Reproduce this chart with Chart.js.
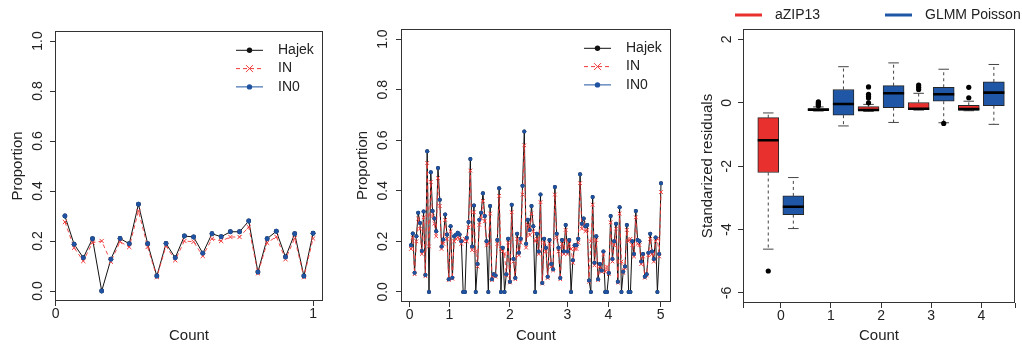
<!DOCTYPE html>
<html>
<head>
<meta charset="utf-8">
<script src="https://cdn.jsdelivr.net/npm/chart.js@4.4.1/dist/chart.umd.min.js"></script>
<style>
  html, body { margin: 0; padding: 0; background: #fff; }
  #wrap { position: relative; width: 1022px; height: 345px; }
  .panel { position: absolute; top: 0; height: 345px; }
</style>
</head>
<body>
<div id="wrap">
  <div class="panel" style="left:0;width:340px"><canvas id="c1" width="340" height="345"></canvas></div>
  <div class="panel" style="left:340px;width:340px"><canvas id="c2" width="340" height="345"></canvas></div>
  <div class="panel" style="left:680px;width:342px"><canvas id="c3" width="342" height="345"></canvas></div>
</div>
<script>
// ---- panel 1: proportions, count 0..1 ----
const p1Hajek = [0.30, 0.187, 0.133, 0.209, 0.0, 0.127, 0.21, 0.189, 0.347, 0.189, 0.06, 0.19, 0.133, 0.22,
  0.216, 0.151, 0.229, 0.217, 0.237, 0.237, 0.28, 0.076, 0.209, 0.239, 0.136, 0.229, 0.06, 0.231];
const p1IN = [0.276, 0.173, 0.12, 0.193, 0.2, 0.117, 0.197, 0.176, 0.32, 0.176, 0.056, 0.18, 0.123, 0.2,
  0.197, 0.14, 0.209, 0.2, 0.216, 0.216, 0.256, 0.071, 0.193, 0.217, 0.127, 0.21, 0.056, 0.21];
const p1IN0 = [0.30, 0.187, 0.133, 0.209, 0.0, 0.127, 0.21, 0.189, 0.347, 0.189, 0.06, 0.19, 0.133, 0.22,
  0.216, 0.151, 0.229, 0.217, 0.237, 0.237, 0.28, 0.076, 0.209, 0.239, 0.136, 0.229, 0.06, 0.231];
const p1TickAt = [0, 1];
const p1TickLabels = ["0", "1"];

// ---- panel 2: proportions, count 0..5 (x = observation index) ----
const p2Hajek = [
  0.185, 0.231, 0.076, 0.22, 0.313, 0.273, 0.162, 0.318, 0.067, 0.556,
  0, 0.473, 0.32, 0.29, 0.24, 0.49, 0.365, 0.18, 0.207, 0.306,
  0.227, 0.05, 0.26, 0.056, 0.22, 0.226, 0.234, 0.227, 0.2, 0,
  0, 0.214, 0.276, 0.526, 0.18, 0.342, 0, 0.11, 0.285, 0.313,
  0.39, 0.3, 0.2, 0, 0.34, 0.05, 0.07, 0.065, 0.205, 0.41,
  0, 0.175, 0, 0.07, 0.21, 0.04, 0.345, 0.13, 0.055, 0.23,
  0.155, 0.21, 0.42, 0.635, 0.19, 0.285, 0.245, 0.34, 0.26, 0,
  0.23, 0.16, 0.385, 0.035, 0.21, 0.175, 0.06, 0.205, 0.11, 0.09,
  0.415, 0.23, 0.175, 0.055, 0.205, 0.16, 0.265, 0.16, 0.205, 0,
  0.125, 0.185, 0.185, 0.21, 0.465, 0.27, 0.29, 0.26, 0.265, 0.045,
  0, 0.375, 0.115, 0.22, 0.05, 0.11, 0.085, 0.16, 0, 0,
  0.075, 0.3, 0.13, 0.2, 0.27, 0.04, 0.335, 0, 0.08, 0.1,
  0.265, 0, 0, 0.2, 0.15, 0.32, 0.205, 0.2, 0.12, 0.15,
  0.06, 0.07, 0.155, 0.23, 0.16, 0.13, 0.215, 0, 0.15, 0.43];
const p2IN = [
  0.17, 0.215, 0.07, 0.2, 0.29, 0.25, 0.15, 0.295, 0.062, 0.51,
  0.18, 0.435, 0.3, 0.27, 0.22, 0.45, 0.34, 0.17, 0.19, 0.285,
  0.21, 0.047, 0.24, 0.052, 0.2, 0.21, 0.215, 0.21, 0.19, 0.2,
  0.21, 0.2, 0.255, 0.48, 0.165, 0.315, 0.16, 0.1, 0.265, 0.29,
  0.36, 0.28, 0.185, 0.19, 0.31, 0.047, 0.065, 0.06, 0.19, 0.38,
  0.17, 0.16, 0.15, 0.065, 0.195, 0.037, 0.315, 0.12, 0.05, 0.21,
  0.145, 0.195, 0.385, 0.58, 0.175, 0.265, 0.225, 0.31, 0.24, 0.2,
  0.21, 0.15, 0.355, 0.033, 0.195, 0.16, 0.055, 0.19, 0.1, 0.085,
  0.385, 0.215, 0.16, 0.05, 0.19, 0.15, 0.245, 0.15, 0.19, 0.17,
  0.115, 0.17, 0.17, 0.195, 0.43, 0.25, 0.27, 0.24, 0.245, 0.04,
  0.2, 0.345, 0.105, 0.205, 0.047, 0.1, 0.08, 0.15, 0.08, 0.1,
  0.07, 0.275, 0.12, 0.185, 0.25, 0.037, 0.31, 0.12, 0.075, 0.095,
  0.245, 0.2, 0.21, 0.185, 0.14, 0.295, 0.19, 0.185, 0.11, 0.14,
  0.056, 0.065, 0.145, 0.21, 0.15, 0.12, 0.2, 0.21, 0.14, 0.395];
// the blue IN0 points sit on the Hajek points everywhere in the picture
const p2IN0 = p2Hajek;
const p2TickAt = [-0.8, 21.4, 55, 87, 109.7, 138.8];
const p2TickLabels = ["0", "1", "2", "3", "4", "5"];

const propTicks = [0, 0.2, 0.4, 0.6, 0.8, 1.0];

// ---- panel 3: boxplots of standardized residuals ----
const p3Counts = [0, 1, 2, 3, 4];
const zipLo  = [-4.62, -0.26, -0.27, -0.23, -0.25];
const zipQ1  = [-2.2, -0.24, -0.25, -0.215, -0.235];
const zipMed = [-1.18, -0.215, -0.225, -0.19, -0.2];
const zipQ3  = [-0.47, -0.19, -0.12, 0.01, -0.08];
const zipHi  = [-0.32, -0.13, -0.05, 0.3, 0.05];
const zipOut = [[-5.31], [-0.09, -0.06, -0.03, 0.0, 0.03], [0.0, 0.15, 0.2, 0.27, 0.5], [0.42, 0.49, 0.56], [0.16, 0.49]];
const glmLo  = [-3.97, -0.73, -0.62, -0.63, -0.68];
const glmQ1  = [-3.53, -0.39, -0.15, 0.05, -0.09];
const glmMed = [-3.28, -0.04, 0.3, 0.27, 0.32];
const glmQ3  = [-2.94, 0.42, 0.54, 0.49, 0.66];
const glmHi  = [-2.36, 1.14, 1.26, 1.06, 1.21];
const glmOut = [[], [], [], [-0.65], []];
const residTicks = [-6, -4, -2, 0, 2];

const FONT = '"Liberation Sans", Arial, Helvetica, sans-serif';
const INK = "#222";
const RED = "#f03a3a";
const BLUE = "#1f53a2";
const BOX_RED = "#e8312e";
const BOX_BLUE = "#1f56a5";

Chart.defaults.font.family = FONT;
Chart.defaults.color = INK;
Chart.defaults.animation = false;
Chart.defaults.events = [];
Chart.defaults.plugins.legend.display = false;
Chart.defaults.plugins.tooltip.enabled = false;

function rRange(lo, hi) {
  const pad = (hi - lo) * 0.04;
  return { min: lo - pad, max: hi + pad };
}

// box round the plot region plus R-style vertical y labels
function rFrame(yTicks, yLabels, gap) {
  return {
    id: "rFrame",
    afterDraw(chart) {
      const { ctx, chartArea: a } = chart;
      const y = chart.scales.y;
      ctx.save();
      ctx.strokeStyle = "#333";
      ctx.lineWidth = 1;
      const l = Math.round(a.left) + 0.5, t = Math.round(a.top) + 0.5;
      const r = Math.round(a.right) - 0.5, b = Math.round(a.bottom) - 0.5;
      ctx.strokeRect(l, t, r - l, b - t);
      ctx.font = `14px ${FONT}`;
      ctx.fillStyle = INK;
      ctx.textAlign = "center";
      ctx.textBaseline = "middle";
      yTicks.forEach((v, i) => {
        ctx.save();
        ctx.translate(a.left - gap, y.getPixelForValue(v));
        ctx.rotate(-Math.PI / 2);
        ctx.fillText(yLabels[i], 0, 0);
        ctx.restore();
      });
      ctx.restore();
    },
  };
}

function estimatorLegend() {
  const items = [
    { label: "Hajek", color: "#111", dash: [], mark: "dot" },
    { label: "IN", color: RED, dash: [4, 3], mark: "x" },
    { label: "IN0", color: BLUE, dash: [], mark: "dot" },
  ];
  return {
    id: "estimatorLegend",
    afterDraw(chart) {
      const { ctx, chartArea: a } = chart;
      ctx.save();
      ctx.font = `14px ${FONT}`;
      ctx.textBaseline = "middle";
      ctx.textAlign = "left";
      items.forEach((it, i) => {
        const y = a.top + 19.3 + i * 18.3;
        const x0 = a.right - 87, x1 = a.right - 60, xm = (x0 + x1) / 2;
        ctx.strokeStyle = it.color;
        ctx.lineWidth = 1;
        ctx.setLineDash(it.dash);
        ctx.beginPath();
        ctx.moveTo(x0, y);
        ctx.lineTo(x1, y);
        ctx.stroke();
        ctx.setLineDash([]);
        if (it.mark === "x") {
          ctx.beginPath();
          ctx.moveTo(xm - 3.5, y - 3.5); ctx.lineTo(xm + 3.5, y + 3.5);
          ctx.moveTo(xm - 3.5, y + 3.5); ctx.lineTo(xm + 3.5, y - 3.5);
          ctx.stroke();
        } else {
          ctx.fillStyle = it.color;
          ctx.beginPath();
          ctx.arc(xm, y, 2.7, 0, 2 * Math.PI);
          ctx.fill();
        }
        ctx.fillStyle = INK;
        ctx.fillText(it.label, a.right - 45, y);
      });
      ctx.restore();
    },
  };
}

function modelLegend() {
  const items = [
    { label: "aZIP13", color: BOX_RED, x: 55 },
    { label: "GLMM Poisson", color: BOX_BLUE, x: 205 },
  ];
  return {
    id: "modelLegend",
    afterDraw(chart) {
      const { ctx } = chart;
      ctx.save();
      ctx.font = `14px ${FONT}`;
      ctx.textBaseline = "middle";
      ctx.textAlign = "left";
      for (const it of items) {
        ctx.strokeStyle = it.color;
        ctx.lineWidth = 3;
        ctx.beginPath();
        ctx.moveTo(it.x, 15);
        ctx.lineTo(it.x + 27, 15);
        ctx.stroke();
        ctx.fillStyle = INK;
        ctx.fillText(it.label, it.x + 40, 15);
      }
      ctx.restore();
    },
  };
}

function rScales(o) {
  const grid = { display: true, drawOnChartArea: false, drawTicks: true, tickLength: 5, color: "#333", lineWidth: 1, offset: false };
  return {
    x: {
      type: "linear",
      min: o.xMin,
      max: o.xMax,
      offset: false,
      afterBuildTicks: (s) => { s.ticks = o.xTicks.map((v) => ({ value: v })); },
      afterFit: (s) => { s.height = o.xHeight; },
      ticks: {
        autoSkip: false, maxRotation: 0, minRotation: 0, padding: 1, color: INK,
        font: { size: 14, lineHeight: 1 },
        callback: (v, i) => o.xLabels[i],
      },
      grid,
      border: { display: false },
      title: { display: true, text: "Count", color: INK, font: { size: 15, lineHeight: 1 }, padding: { top: 0, bottom: 1.5 } },
    },
    y: {
      type: "linear",
      min: o.yMin,
      max: o.yMax,
      afterBuildTicks: (s) => { s.ticks = o.yTicks.map((v) => ({ value: v })); },
      afterFit: (s) => { s.width = o.yWidth; },
      ticks: { display: false },
      grid,
      border: { display: false },
      title: { display: true, text: o.yTitle, color: INK, font: { size: 15, lineHeight: 1 }, padding: { top: o.yTitlePad, bottom: 0 } },
    },
  };
}

function estimatorSets(xs, hajek, inn, in0, dot, cross) {
  const pts = (vals) => xs.map((x, i) => ({ x, y: vals[i] }));
  return [
    { label: "Hajek", data: pts(hajek), borderColor: "#111", borderWidth: 1, pointRadius: dot,
      pointBackgroundColor: "#000", pointBorderWidth: 0, tension: 0, order: 3 },
    { label: "IN", data: pts(inn), borderColor: "rgba(240,58,58,0.9)", borderWidth: 1, borderDash: [4, 3],
      pointStyle: "crossRot", pointRadius: cross, pointBorderColor: RED, pointBorderWidth: 1, tension: 0, order: 2 },
    { label: "IN0", data: pts(in0), showLine: false, pointRadius: dot, pointBackgroundColor: BLUE,
      pointBorderColor: BLUE, pointBorderWidth: 0, order: 1 },
  ];
}

const propLabels = propTicks.map((v) => v.toFixed(1));

// panel 1
const p1Count = p1Hajek.map((_, i) => (i + 1) / p1Hajek.length);
const p1X = rRange(p1Count[0], p1Count[p1Count.length - 1]);
const propY = rRange(0, 1);
new Chart(document.getElementById("c1"), {
  type: "line",
  data: { datasets: estimatorSets(p1Count, p1Hajek, p1IN, p1IN0, 2.4, 3) },
  options: {
    responsive: false,
    layout: { padding: { top: 31, right: 17, left: 0, bottom: 0 } },
    scales: rScales({
      xMin: p1X.min, xMax: p1X.max, xTicks: p1TickAt, xLabels: p1TickLabels, xHeight: 44,
      yMin: propY.min, yMax: propY.max, yTicks: propTicks, yWidth: 55, yTitle: "Proportion", yTitlePad: 10.8,
    }),
  },
  plugins: [rFrame(propTicks, propLabels, 17), estimatorLegend()],
});

// panel 2
const p2Index = p2Hajek.map((_, i) => i);
const p2X = rRange(p2Index[0], p2Index[p2Index.length - 1]);
new Chart(document.getElementById("c2"), {
  type: "line",
  data: { datasets: estimatorSets(p2Index, p2Hajek, p2IN, p2IN0, 2, 2.6) },
  options: {
    responsive: false,
    layout: { padding: { top: 29, right: 9, left: 0, bottom: 0 } },
    scales: rScales({
      xMin: p2X.min, xMax: p2X.max, xTicks: p2TickAt, xLabels: p2TickLabels, xHeight: 43,
      yMin: propY.min, yMax: propY.max, yTicks: propTicks, yWidth: 61, yTitle: "Proportion", yTitlePad: 15.8,
    }),
  },
  plugins: [rFrame(propTicks, propLabels, 17.4), estimatorLegend()],
});

// panel 3
const PAIR_OFFSET = 0.25;
const BOX_HALF = 0.21;
const CAP_HALF = 0.105;
const groups = [
  { label: "aZIP13", color: BOX_RED, off: -PAIR_OFFSET, lo: zipLo, q1: zipQ1, med: zipMed, q3: zipQ3, hi: zipHi, out: zipOut },
  { label: "GLMM Poisson", color: BOX_BLUE, off: PAIR_OFFSET, lo: glmLo, q1: glmQ1, med: glmMed, q3: glmQ3, hi: glmHi, out: glmOut },
];
const whiskers = [], caps = [], medians = [], outliers = [];
for (const g of groups) {
  p3Counts.forEach((c, i) => {
    const x = c + g.off;
    whiskers.push({ x, y: g.q3[i] }, { x, y: g.hi[i] }, { x, y: null }, { x, y: g.q1[i] }, { x, y: g.lo[i] }, { x, y: null });
    caps.push({ x: x - CAP_HALF, y: g.hi[i] }, { x: x + CAP_HALF, y: g.hi[i] }, { x, y: null },
      { x: x - CAP_HALF, y: g.lo[i] }, { x: x + CAP_HALF, y: g.lo[i] }, { x, y: null });
    medians.push({ x: x - BOX_HALF, y: g.med[i] }, { x: x + BOX_HALF, y: g.med[i] }, { x, y: null });
    g.out[i].forEach((v) => outliers.push({ x, y: v }));
  });
}
const boxSets = groups.map((g) => ({
  type: "bar",
  label: g.label,
  data: p3Counts.map((c, i) => ({ x: c + g.off, y: [g.q1[i], g.q3[i]] })),
  backgroundColor: g.color,
  borderColor: "#262626",
  borderWidth: 1,
  borderSkipped: false,
  barThickness: 21,
  grouped: false,
  order: 4,
}));
const p3XMin = -0.754, p3XMax = 4.672;
new Chart(document.getElementById("c3"), {
  type: "bar",
  data: {
    datasets: [
      { type: "line", label: "whiskers", data: whiskers, borderColor: "#444", borderWidth: 1, borderDash: [3, 3],
        pointRadius: 0, spanGaps: false, tension: 0, order: 5 },
      ...boxSets,
      { type: "line", label: "caps", data: caps, borderColor: "#444", borderWidth: 1, pointRadius: 0, spanGaps: false, order: 3 },
      { type: "line", label: "medians", data: medians, borderColor: "#000", borderWidth: 2.6, borderCapStyle: "butt",
        pointRadius: 0, spanGaps: false, order: 2 },
      { type: "line", label: "outliers", data: outliers, showLine: false, pointRadius: 2.6,
        pointBackgroundColor: "#000", pointBorderWidth: 0, order: 1 },
    ],
  },
  options: {
    responsive: false,
    layout: { padding: { top: 29, right: 7, left: 0, bottom: 0 } },
    scales: rScales({
      xMin: p3XMin, xMax: p3XMax, xTicks: [p3XMin, ...p3Counts, p3XMax],
      xLabels: ["", ...p3Counts.map(String), ""], xHeight: 42,
      yMin: -6.32, yMax: 2.33, yTicks: residTicks, yWidth: 63, yTitle: "Standarized residuals", yTitlePad: 20.8,
    }),
  },
  plugins: [rFrame(residTicks, residTicks.map(String), 16.3), modelLegend()],
});
</script>
</body>
</html>
